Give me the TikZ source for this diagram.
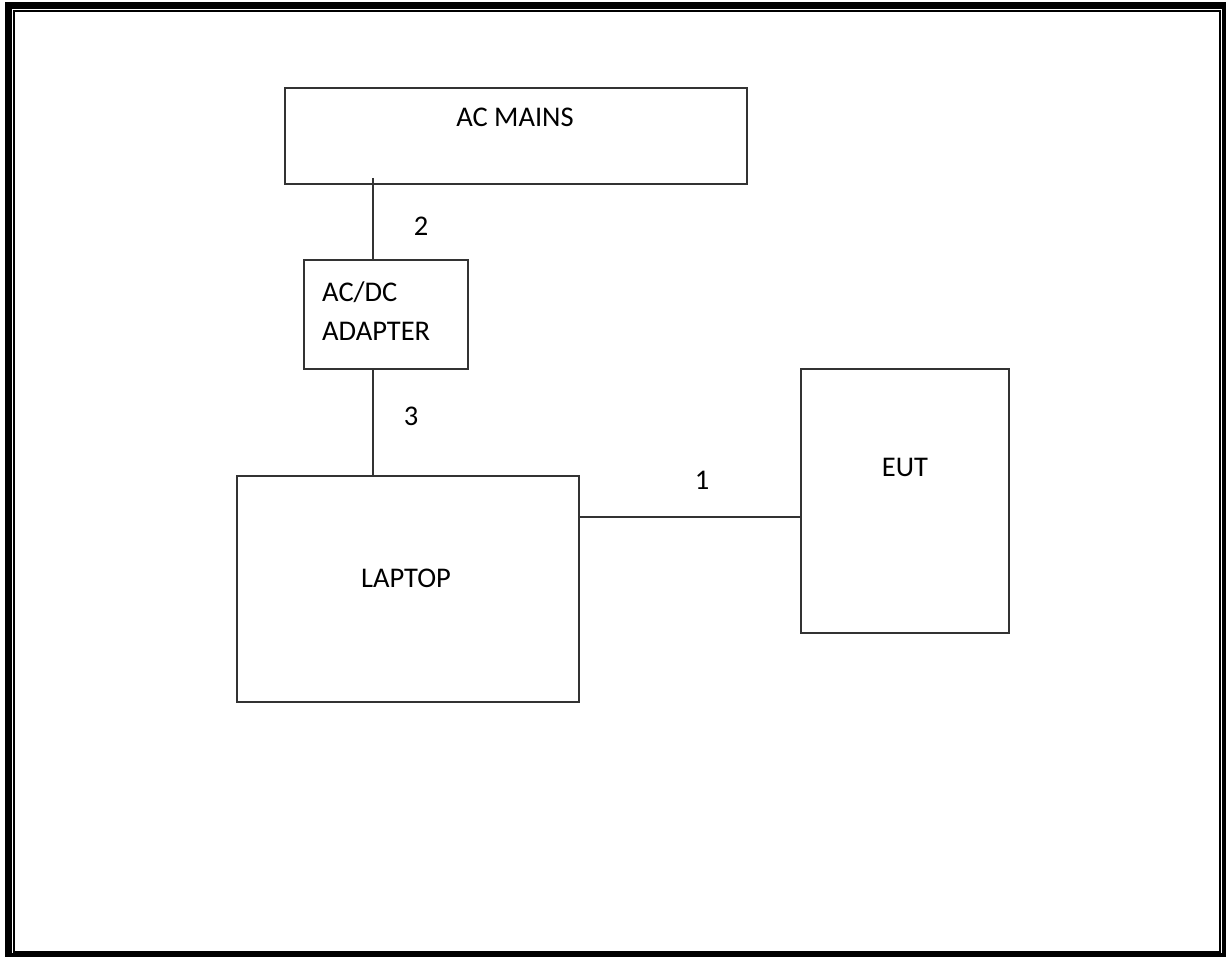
\documentclass[tikz,border=0pt]{standalone}
\usepackage{fontspec}
\setmainfont{Carlito}
\begin{document}
\begin{tikzpicture}[x=1pt,y=-1pt,
  blk/.style={draw=black!80,line width=1.4pt,inner sep=0pt},
  wire/.style={draw=black!80,line width=1.4pt},
  lbl/.style={font=\fontsize{28.5}{39}\selectfont,inner sep=0pt,anchor=center}]
\useasboundingbox (0,0) rectangle (1226,957);
\begin{scope}
\clip (0,0) rectangle (1226,957);
\draw[line width=7pt] (8.5,5.5) rectangle (1225,956);
\end{scope}
\draw[line width=2pt] (14,11) rectangle (1220,952);
% boxes
\draw[blk] (285,88) rectangle (747,184);
\node[lbl] (acm) at (515,117) {AC MAINS};
\coordinate (acin) at (373,178);
\draw[blk] (304,260) rectangle (468,369);
\coordinate (adtop) at (373,260);
\coordinate (adbot) at (373,369);
\node[lbl,anchor=west,align=left] (ad) at (322,311) {AC/DC\\ADAPTER};
\draw[blk] (237,476) rectangle (579,702);
\coordinate (laptop) at (373,476);
\coordinate (lapright) at (579,517);
\node[lbl] (lap) at (406,578) {LAPTOP};
\draw[blk] (801,369) rectangle (1009,633);
\coordinate (eutleft) at (801,517);
\node[lbl] (eut) at (905,467) {EUT};
% wires
\draw[wire] (acin) -- (adtop);
\draw[wire] (adbot) -- (laptop);
\draw[wire] (lapright) -- (eutleft);
\node[lbl] (n2) at (421,226) {2};
\node[lbl] (n3) at (411,416) {3};
\node[lbl] (n1) at (702,480) {1};
\end{tikzpicture}
\end{document}
